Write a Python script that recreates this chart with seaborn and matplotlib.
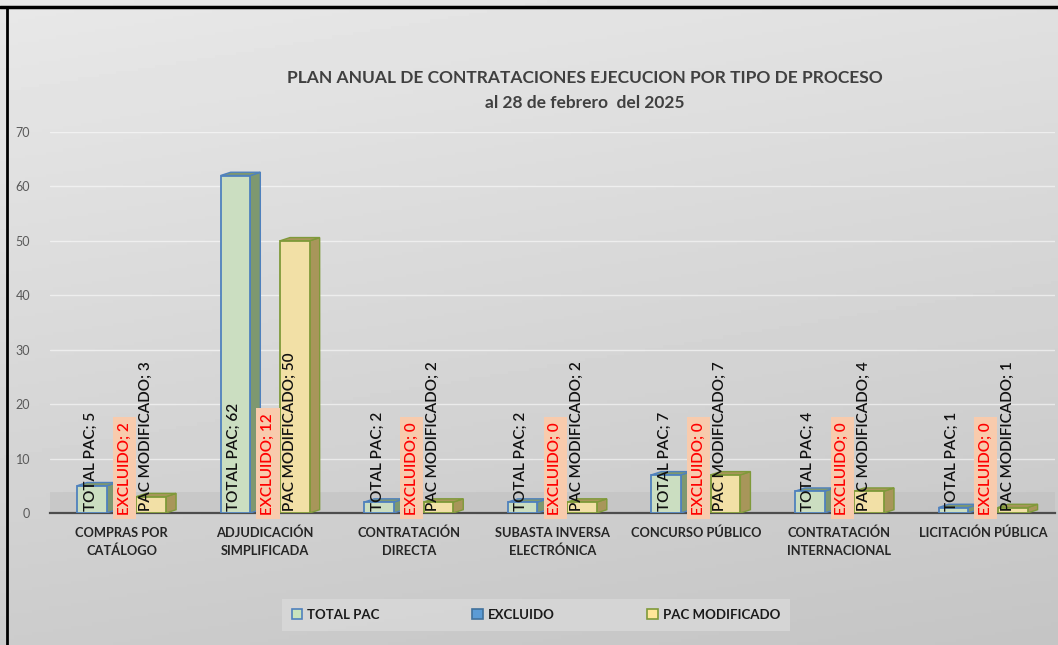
import numpy as np
import pandas as pd
import matplotlib
matplotlib.use("Agg")
import matplotlib.pyplot as plt
import seaborn as sns
from matplotlib.patches import Polygon, Patch
from matplotlib.lines import Line2D

# Datos del grafico
categorias = [
    "COMPRAS POR\nCATÁLOGO", "ADJUDICACIÓN\nSIMPLIFICADA", "CONTRATACIÓN\nDIRECTA",
    "SUBASTA INVERSA\nELECTRÓNICA", "CONCURSO PÚBLICO", "CONTRATACIÓN\nINTERNACIONAL",
    "LICITACIÓN PÚBLICA",
]
series = ["TOTAL PAC", "EXCLUIDO", "PAC MODIFICADO"]
total_pac = [5, 62, 2, 2, 7, 4, 1]
excluido = [2, 12, 0, 0, 0, 0, 0]
pac_modificado = [3, 50, 2, 2, 7, 4, 1]

colores = {"TOTAL PAC": "#C9E3BC", "EXCLUIDO": "#5B9BD5", "PAC MODIFICADO": "#FFE699"}
bordes = {"TOTAL PAC": "#4F81BD", "EXCLUIDO": "#41719C", "PAC MODIFICADO": "#7F9A3A"}
lados = {"TOTAL PAC": "#7E9870", "EXCLUIDO": "#3F6E9A", "PAC MODIFICADO": "#A8965A"}

df = pd.DataFrame({
    "Tipo": categorias * 3,
    "Serie": [s for s in series for _ in categorias],
    "Valor": total_pac + excluido + pac_modificado,
})

sns.set_theme(style="white")
plt.rcParams["font.family"] = ["Lato", "DejaVu Sans"]

fig = plt.figure(figsize=(10.58, 6.45), dpi=100)

# fondo degradado gris
bg = fig.add_axes([0, 0, 1, 1], zorder=-10)
yy = np.linspace(0, 1, 200)[:, None]
xx = np.linspace(0, 1, 300)[None, :]
grad = 0.80 + 0.11 * yy - 0.03 * xx
bg.imshow(grad, cmap="gray", vmin=0, vmax=1, aspect="auto", origin="lower",
          extent=[0, 1, 0, 1])
bg.set_axis_off()

ax = fig.add_axes([0.047, 0.2047, 0.950, 0.5907])
ax.set_facecolor("none")

sns.barplot(data=df, x="Tipo", y="Valor", hue="Serie", palette=colores,
            width=0.62, dodge=True, ax=ax, legend=False, zorder=3)

ax.set_ylim(0, 70)
ax.set_xlim(-0.5, 6.5)
ax.set_yticks(range(0, 71, 10))
ax.grid(axis="y", color="white", alpha=0.55, lw=1, zorder=0)
ax.set_axisbelow(True)
for s in ["top", "right", "left"]:
    ax.spines[s].set_visible(False)
ax.spines["bottom"].set_color("#4D4D4D")
ax.spines["bottom"].set_linewidth(1.6)
ax.tick_params(axis="y", length=0, labelsize=9, labelcolor="#595959", pad=14)
ax.tick_params(axis="x", length=0, pad=10)
ax.set_xlabel("")
ax.set_ylabel("")
ax.set_xticks(range(len(categorias)))
ax.set_xticklabels(categorias, fontsize=9.3, fontweight="bold", color="#262626",
                   linespacing=1.55, va="top")

# piso gris
ax.fill_between([-0.5, 6.5], 0, 3.8, color="#B8B8B8", alpha=0.35, zorder=1, lw=0)

dx, dy = 0.07, 0.6
cont_tot, cont_exc, cont_mod = ax.containers
for serie, cont in zip(series, ax.containers):
    for bar in cont:
        bar.set_edgecolor(bordes[serie])
        bar.set_linewidth(1.3)

# barra excluido detras de total pac
for g, b in zip(cont_tot, cont_exc):
    b.set_x(g.get_x() + 0.27 * g.get_width())
    b.set_zorder(2)

def caja_3d(bar, serie, z):
    x, w, h = bar.get_x(), bar.get_width(), bar.get_height()
    if h <= 0:
        return
    lado = Polygon([(x + w, 0), (x + w + dx, dy), (x + w + dx, h + dy), (x + w, h)],
                   closed=True, fc=lados[serie], ec=bordes[serie], lw=1.0, zorder=z)
    tapa = Polygon([(x, h), (x + dx, h + dy), (x + w + dx, h + dy), (x + w, h)],
                   closed=True, fc=lados[serie], ec=bordes[serie], lw=1.0, zorder=z)
    ax.add_patch(lado)
    ax.add_patch(tapa)

for serie, cont, z in [("EXCLUIDO", cont_exc, 1.9), ("TOTAL PAC", cont_tot, 2.9),
                       ("PAC MODIFICADO", cont_mod, 2.9)]:
    for bar in cont:
        caja_3d(bar, serie, z)

# etiquetas de datos
for i in range(len(categorias)):
    g = cont_tot[i]
    m = cont_mod[i]
    ax.text(g.get_x() + 0.45 * g.get_width(), 0.3, f"TOTAL PAC; {total_pac[i]}",
            rotation=90, ha="center", va="bottom", fontsize=11, fontweight="semibold",
            color="#111111", zorder=6)
    xm = (g.get_x() + g.get_width() + m.get_x()) / 2
    ax.text(xm + 0.02, -0.3, f"EXCLUIDO; {excluido[i]}", rotation=90, ha="center",
            va="bottom", fontsize=11, fontweight="semibold", color="#FF0000", zorder=7,
            bbox=dict(boxstyle="square,pad=0.3", fc="#F8CBAD", ec="none"))
    ax.text(m.get_x() + 0.32 * m.get_width(), 0.3, f"PAC MODIFICADO; {pac_modificado[i]}",
            rotation=90, ha="center", va="bottom", fontsize=11, fontweight="semibold",
            color="#111111", zorder=6)

# titulo
fig.text(585 / 1058, 1 - 78 / 645, "PLAN ANUAL DE CONTRATACIONES EJECUCION POR TIPO DE PROCESO",
         ha="center", va="center", fontsize=12.5, fontweight="bold", color="#404040")
fig.text(585 / 1058, 1 - 103 / 645, "al 28 de febrero  del 2025",
         ha="center", va="center", fontsize=12.5, fontweight="bold", color="#404040")

# leyenda
handles = [Patch(fc=colores[s], ec=bordes[s], lw=1.2, label=s) for s in series]
leg = fig.legend(handles=handles, loc="center", ncol=3,
                 bbox_to_anchor=(536 / 1058, 1 - 615 / 645),
                 frameon=True, fancybox=False, fontsize=9.5,
                 handlelength=0.8, handleheight=0.8, handletextpad=0.4,
                 columnspacing=7.0, borderpad=0.75, borderaxespad=0)
leg.get_frame().set_facecolor("#D9D9D9")
leg.get_frame().set_edgecolor("none")
for t in leg.get_texts():
    t.set_fontweight("bold")
    t.set_color("#1A1A1A")

# borde negro del grafico
fig.add_artist(Line2D([0, 1], [1 - 7 / 645, 1 - 7 / 645], color="black", lw=2.5,
                      transform=fig.transFigure))
fig.add_artist(Line2D([7 / 1058, 7 / 1058], [0, 1 - 7 / 645], color="black", lw=2,
                      transform=fig.transFigure))

fig.savefig("out.png", dpi=100)
